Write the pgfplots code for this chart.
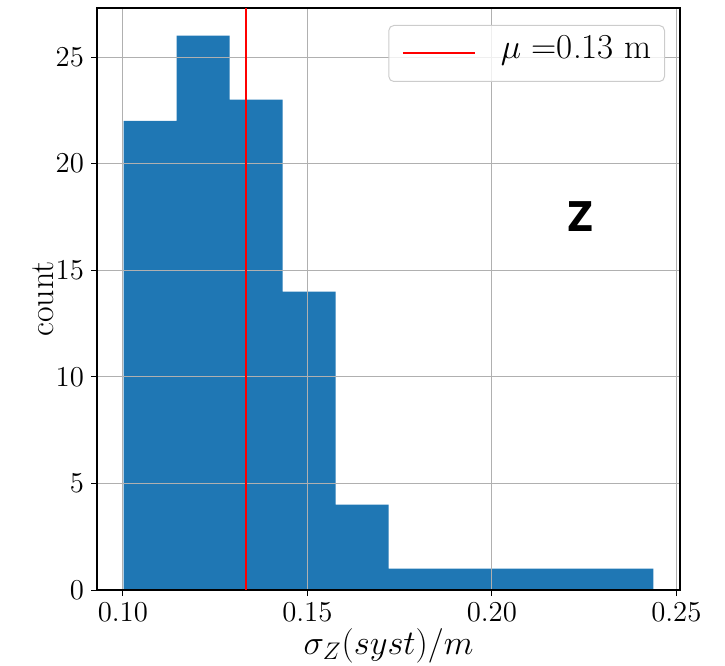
\documentclass[border=0pt]{standalone}
\usepackage{pgfplots}
\pgfplotsset{compat=1.18}
\usepackage{fontspec}
\newfontfamily\dejavu{DejaVu Sans}
\definecolor{mplblue}{RGB}{31,119,180}
\definecolor{gridgray}{RGB}{176,176,176}
\begin{document}
\begin{tikzpicture}
\begin{axis}[
  name=ax,
  scale only axis,
  width=291.5pt, height=291pt,
  xmin=0.0930, xmax=0.2510, ymin=0, ymax=27.3,
  xtick={0.10,0.15,0.20,0.25},
  ytick={0,5,10,15,20,25},
  scaled x ticks=false,
  xticklabel style={/pgf/number format/fixed, /pgf/number format/fixed zerofill, /pgf/number format/precision=2},
  tick label style={font=\fontsize{13.5}{15}\selectfont},
  tick align=outside, major tick length=3pt,
  tick style={black, line width=0.5pt},
  xtick pos=bottom, ytick pos=left,
  grid=major, major grid style={gridgray, line width=0.5pt},
  axis line style={black, line width=0.8pt},
  set layers, axis on top,
  xlabel={$\sigma_Z(syst)/m$}, ylabel={count},
  label style={font=\fontsize{17}{20}\selectfont},
  xlabel style={at={(axis description cs:0.5,-0.0653)}, anchor=north, inner sep=0pt},
  ylabel style={at={(axis description cs:-0.0926,0.5)}, anchor=center, inner sep=0pt},
  legend image code/.code={\draw[red, line width=1pt] (0pt,0pt) -- (36pt,0pt);},
  legend style={at={(1,1)}, anchor=north east, xshift=-7.5pt, yshift=-8.5pt,
    draw=black!20, line width=0.5pt, rounded corners=2.5pt, fill=white, fill opacity=0.8, text opacity=1,
    inner xsep=6.5pt, inner ysep=9.5pt, font=\fontsize{17.5}{20}\selectfont,
    nodes={inner sep=0pt, text height=0.7em, text depth=0.2em}, column sep=12.5pt},
]
\addplot[ybar interval, fill=mplblue, draw=none, forget plot] coordinates {
  (0.10020,22) (0.11456,26) (0.12892,23) (0.14328,14) (0.15764,4)
  (0.17200,1) (0.18636,1) (0.20072,1) (0.21508,1) (0.22944,1) (0.24380,1)};
\addplot[red, line width=1pt, on layer=axis foreground] coordinates {(0.1333,0) (0.1333,27.3)};
\addlegendentry{$\mu$ =0.13 m\hspace{2.5pt}}
\node[font=\dejavu\bfseries\fontsize{20.5}{24}\selectfont, xscale=0.88] at (axis cs:0.2240,17.52) {Z};
\end{axis}
\pgfresetboundingbox
\path ([shift={(-48.5pt,-37.5pt)}]ax.south west) rectangle ([shift={(22.5pt,4pt)}]ax.north east);
\end{tikzpicture}
\end{document}
